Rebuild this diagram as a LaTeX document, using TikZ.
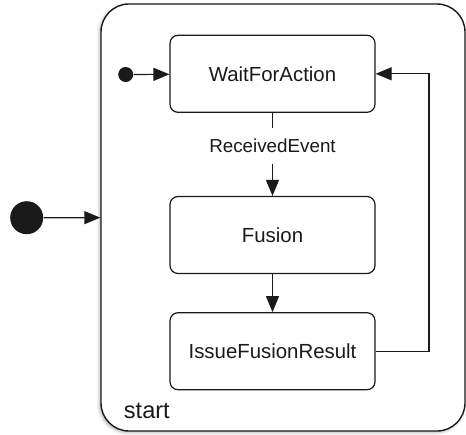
\documentclass[tikz,border=0pt]{standalone}
\usepackage{fontspec}
\setmainfont{Liberation Sans}
\usetikzlibrary{arrows.meta,positioning,shadows.blur}
\definecolor{ink}{HTML}{1A1A1A}

\begin{document}
\begin{tikzpicture}[x=0.5pt,y=-0.5pt,font=\fontsize{10.2}{12}\selectfont,color=ink,
  st/.style={draw,fill=white,line width=0.6pt,rounded corners=4pt,minimum width=102.5pt,minimum height=38.5pt,inner sep=0pt},
  arr/.style={-{Triangle[length=8pt,width=6.5pt]},line width=0.6pt},
  dot/.style={circle,fill=ink,inner sep=0pt}]
\useasboundingbox (0,0) rectangle (466,434);
\node[draw,fill=white,line width=0.7pt,rounded corners=14pt,minimum width=182pt,minimum height=213.5pt,
  blur shadow={shadow xshift=-0.8pt,shadow yshift=-0.8pt,shadow blur radius=1.5pt,shadow opacity=30}] (start) at (283,217.5) {};
\node[st] (wait) at (272.5,73.8) {WaitForAction};
\node[st,below=41.5pt of wait] (fusion) {Fusion};
\node[st,below=19pt of fusion] (issue) {IssueFusionResult};
\node[dot,minimum size=16.5pt] (init) at (26.7,217.7) {};
\node[dot,minimum size=7.5pt] (waitinit) at (125.7,74.5) {};
\node[font=\fontsize{9.4}{11}\selectfont,inner xsep=2pt,inner ysep=5.5pt] (evt) at (272.5,146) {ReceivedEvent};
\node[font=\fontsize{11.8}{14}\selectfont,anchor=west,inner sep=0pt] (lbl) at (123.5,411) {start};
\coordinate (back) at (429,0);
\draw[arr] (init) -- (start);
\draw[arr] (waitinit) -- (wait);
\draw[line width=0.6pt] (wait) -- (evt);
\draw[arr] (evt) -- (fusion);
\draw[arr] (fusion) -- (issue);
\draw[arr] (issue.east) -- (issue.east -| back) -- (wait.east -| back) -- (wait.east);
\end{tikzpicture}
\end{document}
